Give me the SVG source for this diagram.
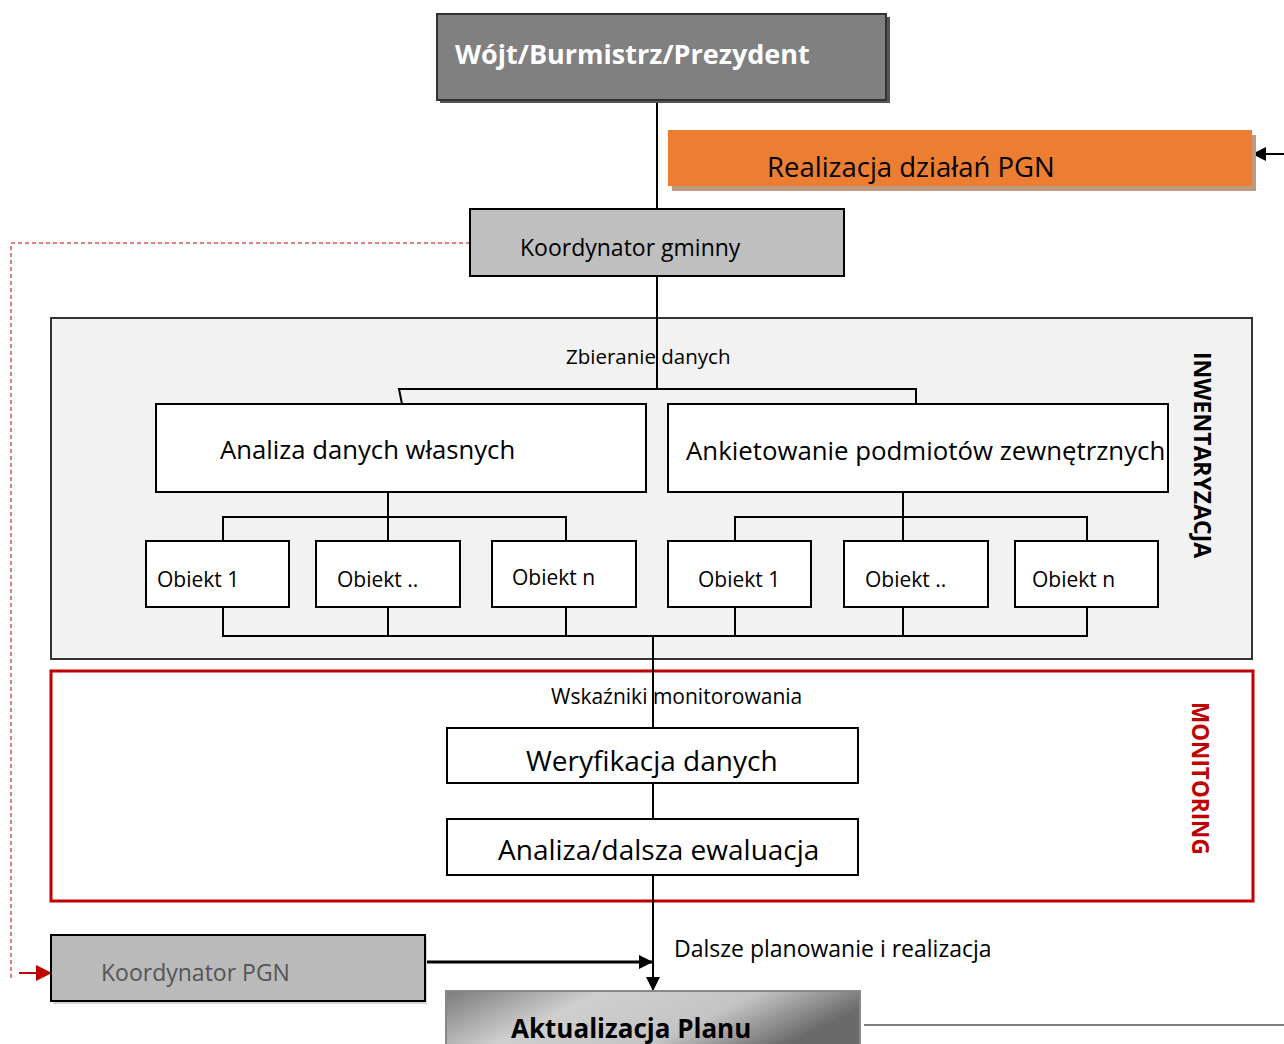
<svg xmlns="http://www.w3.org/2000/svg" width="1284" height="1044" viewBox="0 0 1284 1044">
<defs>
<style>
text{font-family:"Open Sans","Liberation Sans",sans-serif;fill:#000}
.box{stroke:#000;stroke-width:2}
.ln{stroke:#000;stroke-width:2;fill:none}
.b{font-weight:bold}
</style>
<marker id="ah" markerWidth="14" markerHeight="14" viewBox="0 0 14 14" refX="13" refY="7" orient="auto" markerUnits="userSpaceOnUse">
<path d="M0,0 L14,7 L0,14 z" fill="#000"/>
</marker>
<marker id="ahr" markerWidth="16" markerHeight="16" viewBox="0 0 16 16" refX="15" refY="8" orient="auto" markerUnits="userSpaceOnUse">
<path d="M0,0 L16,8 L0,16 z" fill="#C00000"/>
</marker>
<linearGradient id="grad" x1="0" y1="0" x2="1" y2="0.3">
<stop offset="0" stop-color="#7a7a7a"/>
<stop offset="0.35" stop-color="#cfcfcf"/>
<stop offset="0.7" stop-color="#c4c4c4"/>
<stop offset="1" stop-color="#6a6a6a"/>
</linearGradient>
</defs>
<rect width="1284" height="1044" fill="#fff"/>

<g id="inwentaryzacja">
<rect x="51" y="318" width="1201" height="341" fill="#F2F2F2" stroke="#333" stroke-width="2"/>
<text x="1194" y="352" transform="rotate(90 1194 352)" class="b" font-size="23">INWENTARYZACJA</text>
<text x="566" y="364" font-size="20.5">Zbieranie danych</text>
</g>
<g id="monitoring">
<rect x="51" y="671" width="1202" height="230" fill="#fff" stroke="#C00000" stroke-width="3"/>
<text x="1192" y="702" transform="rotate(90 1192 702)" class="b" font-size="22.5" style="fill:#C00000">MONITORING</text>
<text x="551" y="704" font-size="21">Wskaźniki monitorowania</text>
</g>

<g id="connectors">
<line class="ln" x1="657" y1="86" x2="657" y2="209"/>
<line class="ln" x1="657" y1="276" x2="657" y2="389"/>
<polyline class="ln" points="402,404 399,389 916,389 916,404"/>
<line class="ln" x1="388" y1="492" x2="388" y2="541"/>
<polyline class="ln" points="223,541 223,517 566,517 566,541"/>
<line class="ln" x1="903" y1="492" x2="903" y2="541"/>
<polyline class="ln" points="735,541 735,517 1087,517 1087,541"/>
<polyline class="ln" points="223,607 223,636 1087,636 1087,607"/>
<line class="ln" x1="388" y1="607" x2="388" y2="636"/>
<line class="ln" x1="566" y1="607" x2="566" y2="636"/>
<line class="ln" x1="735" y1="607" x2="735" y2="636"/>
<line class="ln" x1="903" y1="607" x2="903" y2="636"/>
<line class="ln" x1="653" y1="636" x2="653" y2="728"/>
<line class="ln" x1="653" y1="783" x2="653" y2="819"/>
<line class="ln" x1="653" y1="875" x2="653" y2="990" marker-end="url(#ah)"/>
<line class="ln" x1="425" y1="962" x2="652" y2="962" style="stroke-width:3" marker-end="url(#ah)"/>
<line class="ln" x1="1284" y1="154" x2="1253" y2="154" marker-end="url(#ah)"/>
<polyline points="470,243 11,243 11,979" fill="none" stroke="#C00000" stroke-width="1" stroke-dasharray="4,3"/>
<line x1="19" y1="973" x2="51" y2="973" stroke="#C00000" stroke-width="2" marker-end="url(#ahr)"/>
<line x1="864" y1="1025" x2="1284" y2="1025" stroke="#555" stroke-width="1.5"/>
</g>

<g id="wojt">
<rect x="440" y="17" width="450" height="86" fill="#555"/>
<rect x="437" y="14" width="449" height="86" fill="#808080" stroke="#333" stroke-width="2"/>
<text x="455" y="64" class="b" font-size="27" style="fill:#fff">Wójt/Burmistrz/Prezydent</text>
</g>
<g id="realizacja">
<rect x="672" y="135" width="584" height="56" fill="#C09A80"/>
<rect x="668" y="130" width="584" height="56" fill="#ED7D31"/>
<text x="767" y="177" font-size="27.5">Realizacja działań PGN</text>
</g>
<g id="koordynator-gminny">
<rect class="box" x="470" y="209" width="374" height="67" fill="#BFBFBF"/>
<text x="520" y="256" font-size="23">Koordynator gminny</text>
</g>
<g id="analiza-wlasnych">
<rect class="box" x="156" y="404" width="490" height="88" fill="#fff"/>
<text x="220" y="459" font-size="25.7">Analiza danych własnych</text>
</g>
<g id="ankietowanie">
<rect class="box" x="668" y="404" width="500" height="88" fill="#fff"/>
<text x="686" y="460" font-size="25.8">Ankietowanie podmiotów zewnętrznych</text>
</g>
<g id="obiekt-l1"><rect class="box" x="146" y="541" width="143" height="66" fill="#fff"/><text x="157" y="587" font-size="21">Obiekt 1</text></g>
<g id="obiekt-l2"><rect class="box" x="316" y="541" width="144" height="66" fill="#fff"/><text x="337" y="587" font-size="21">Obiekt ..</text></g>
<g id="obiekt-l3"><rect class="box" x="492" y="541" width="144" height="66" fill="#fff"/><text x="512" y="585" font-size="21">Obiekt n</text></g>
<g id="obiekt-r1"><rect class="box" x="668" y="541" width="143" height="66" fill="#fff"/><text x="698" y="587" font-size="21">Obiekt 1</text></g>
<g id="obiekt-r2"><rect class="box" x="844" y="541" width="144" height="66" fill="#fff"/><text x="865" y="587" font-size="21">Obiekt ..</text></g>
<g id="obiekt-r3"><rect class="box" x="1015" y="541" width="143" height="66" fill="#fff"/><text x="1032" y="587" font-size="21">Obiekt n</text></g>
<g id="weryfikacja">
<rect class="box" x="447" y="728" width="411" height="55" fill="#fff"/>
<text x="526" y="771" font-size="28">Weryfikacja danych</text>
</g>
<g id="analiza-ewaluacja">
<rect class="box" x="447" y="819" width="411" height="56" fill="#fff"/>
<text x="498" y="860" font-size="28">Analiza/dalsza ewaluacja</text>
</g>
<g id="koordynator-pgn">
<rect x="53" y="937" width="374" height="67" fill="#d6d6d6"/>
<rect class="box" x="51" y="935" width="374" height="66" fill="#BABABA" stroke="#222"/>
<text x="101" y="981" font-size="23" style="fill:#555">Koordynator PGN</text>
</g>
<text x="674" y="957" font-size="23">Dalsze planowanie i realizacja</text>
<g id="aktualizacja">
<rect x="446" y="991" width="414" height="60" fill="url(#grad)" stroke="#888" stroke-width="2"/>
<text x="511" y="1038" class="b" font-size="26">Aktualizacja Planu</text>
</g>
</svg>
